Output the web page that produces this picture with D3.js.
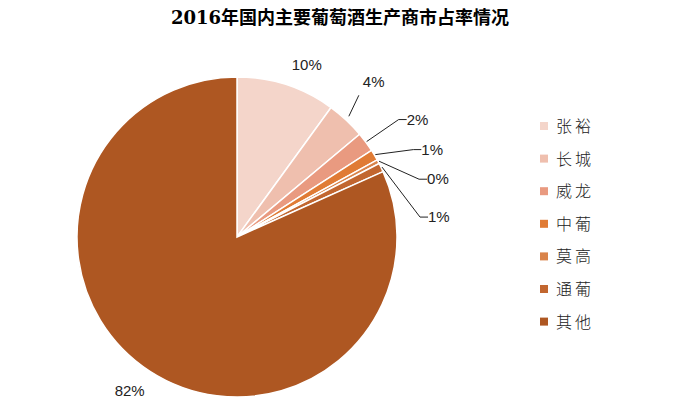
<!DOCTYPE html>
<html><head><meta charset="utf-8">
<script src="https://cdn.jsdelivr.net/npm/d3@7"></script>
<style>body{margin:0;background:#fff}</style>
</head><body><div id="chart"></div>
<script>
const names = ["张裕", "长城", "威龙", "中葡", "莫高", "通葡", "其他"];
const values = [10.0, 3.9, 2.0, 1.1, 0.4, 0.9, 81.7];
const labels = ["10%", "4%", "2%", "1%", "0%", "1%", "82%"];
const colors = ["#f4d5ca", "#efbfae", "#e99a80", "#e07b35", "#d9834a", "#c2662f", "#ae5722"];

const W = 675, H = 406, cx = 237, cy = 237, r = 160;
const svg = d3.select("#chart").append("svg").attr("width", W).attr("height", H);

svg.append("text").attr("x", 340).attr("y", 24).attr("text-anchor", "middle")
  .attr("font-family", "'DejaVu Serif','Noto Sans CJK SC',serif").attr("font-weight", "bold")
  .attr("font-size", 18).text("2016年国内主要葡萄酒生产商市占率情况");

const pie = d3.pie().sort(null).value(d => d);
const arcs = pie(values);
const arc = d3.arc().innerRadius(0).outerRadius(r);
const g = svg.append("g").attr("transform", `translate(${cx},${cy})`);

g.selectAll("path").data(arcs).enter().append("path")
  .attr("d", arc).attr("fill", (d, i) => colors[i])
  .attr("stroke", "#fff").attr("stroke-width", 1.5);

// label offsets from the slice edge point
const labelPos = [
  {dx: 0, dy: 0, lead: false},
  {dx: 20, dy: -28, lead: true},
  {dx: 40, dy: -22, lead: true},
  {dx: 46, dy: -5, lead: true},
  {dx: 48, dy: 18, lead: true},
  {dx: 46, dy: 50, lead: true},
  {dx: 0, dy: 0, lead: false}
];
const font = "'Liberation Sans',Arial,sans-serif";
arcs.forEach((d, i) => {
  const a = (d.startAngle + d.endAngle) / 2;
  const p = labelPos[i];
  if (!p.lead) {
    const rr = i === 6 ? r + 8 : r + 14;
    const x = Math.sin(a) * rr, y = -Math.cos(a) * rr;
    g.append("text").attr("x", i === 6 ? x - 16 : x + 16).attr("y", i === 6 ? y + 18 : y - 2)
      .attr("text-anchor", "middle").attr("font-family", font).attr("font-size", 15)
      .attr("fill", "#222").text(labels[i]);
    return;
  }
  const x0 = Math.sin(a) * (r + 1), y0 = -Math.cos(a) * (r + 1);
  const x1 = x0 + p.dx, y1 = y0 + p.dy;
  const pts = i === 1 ? [[x0 + 2, y0 - 3], [x1 - 8, y1 + 4]] : [[x0, y0], [x1 - 8, y1], [x1, y1]];
  g.append("path").attr("d", d3.line()(pts)).attr("fill", "none").attr("stroke", "#222").attr("stroke-width", 1);
  g.append("text").attr("x", x1 - (i === 1 ? 4 : 0)).attr("y", y1 + (i === 1 ? -4 : 5))
    .attr("font-family", font).attr("font-size", 15).attr("fill", "#222").text(labels[i]);
});

const leg = svg.append("g").attr("transform", "translate(540,127)");
names.forEach((n, i) => {
  const row = leg.append("g").attr("transform", `translate(0,${i * 32.6})`);
  row.append("rect").attr("x", 0).attr("y", -5).attr("width", 8).attr("height", 8).attr("fill", colors[i]);
  row.append("text").attr("x", 16).attr("y", 5).attr("font-family", "'Noto Sans CJK SC',sans-serif")
    .attr("font-weight", 300).attr("font-size", 16).attr("letter-spacing", 3).attr("fill", "#222").text(n);
});
</script></body></html>
